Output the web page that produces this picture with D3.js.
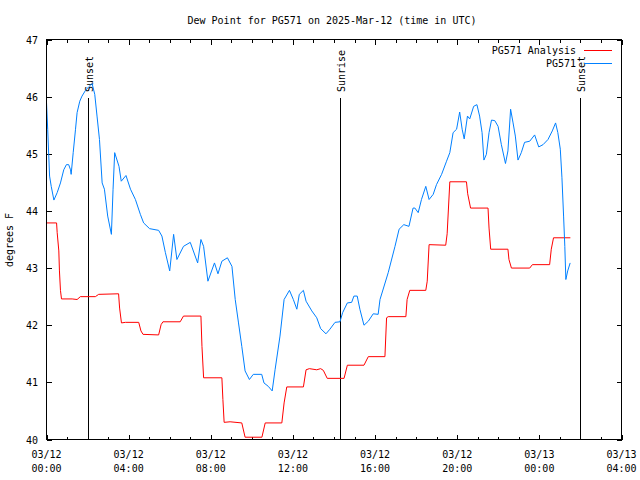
<!DOCTYPE html>
<html>
<head>
<meta charset="utf-8">
<script src="https://cdn.jsdelivr.net/npm/d3@7"></script>
<style>
  html, body { margin: 0; padding: 0; background: #fff; }
  svg { display: block; }
  text { font-family: "DejaVu Sans Mono", "Liberation Mono", monospace; font-size: 10px; fill: #000; }
</style>
</head>
<body>
<svg id="chart" width="640" height="480"></svg>
<script>
// ---- Data (hours after 2025-03-12 00:00 UTC) ----
const analysisHours = [0.0,0.49,0.52,0.60,0.63,0.68,0.73,1.25,1.49,1.65,2.38,2.54,3.51,3.56,3.65,3.84,4.49,4.60,4.70,5.46,5.58,5.67,6.51,6.67,7.52,7.57,7.65,8.54,8.59,8.65,8.94,9.51,9.67,10.49,10.65,11.46,11.57,11.70,12.51,12.64,12.80,13.16,13.35,13.48,13.67,14.49,14.65,15.46,15.67,16.48,16.56,16.64,17.50,17.56,17.69,18.47,18.54,18.63,19.44,19.51,19.64,20.45,20.51,20.65,21.50,21.55,21.63,22.47,22.52,22.64,23.53,23.66,24.50,24.58,24.69,25.51];
const analysisValues = [43.79,43.79,43.62,43.30,42.95,42.61,42.46,42.46,42.45,42.50,42.50,42.54,42.55,42.30,42.04,42.05,42.05,41.90,41.84,41.83,42.01,42.06,42.06,42.16,42.16,41.63,41.08,41.08,40.70,40.30,40.31,40.29,40.04,40.04,40.29,40.29,40.64,40.92,40.92,41.22,41.24,41.22,41.24,41.21,41.07,41.07,41.30,41.30,41.45,41.45,42.13,42.15,42.15,42.45,42.61,42.61,42.77,43.41,43.40,43.60,44.51,44.51,44.30,44.05,44.05,43.70,43.33,43.33,43.15,43.00,43.00,43.06,43.06,43.33,43.53,43.53];

const stationHours = [0.0,0.06,0.15,0.23,0.36,0.52,0.68,0.84,0.97,1.08,1.17,1.20,1.30,1.41,1.49,1.62,1.73,1.90,2.05,2.22,2.35,2.46,2.58,2.71,2.82,2.98,3.16,3.24,3.32,3.53,3.64,3.87,4.09,4.33,4.57,4.73,5.02,5.46,5.62,5.79,6.00,6.19,6.35,6.67,7.00,7.36,7.52,7.65,7.86,8.18,8.35,8.54,8.81,9.03,9.19,9.35,9.51,9.67,9.88,10.07,10.48,10.59,10.80,10.99,11.13,11.37,11.57,11.83,12.02,12.19,12.31,12.51,12.64,12.92,13.16,13.35,13.61,13.80,14.05,14.29,14.42,14.65,14.86,14.97,15.13,15.26,15.46,15.67,15.91,16.15,16.24,16.64,16.97,17.17,17.40,17.65,17.85,17.94,18.10,18.26,18.47,18.63,18.83,18.99,19.24,19.48,19.64,19.80,19.97,20.12,20.24,20.34,20.50,20.61,20.80,20.96,21.09,21.21,21.30,21.42,21.55,21.67,21.83,21.99,22.15,22.35,22.47,22.60,22.72,22.83,22.96,23.12,23.28,23.53,23.77,23.97,24.18,24.42,24.63,24.79,24.90,25.02,25.10,25.18,25.24,25.29,25.38,25.50];
const stationValues = [45.90,45.42,44.61,44.43,44.19,44.32,44.49,44.72,44.81,44.81,44.72,44.64,45.02,45.42,45.72,45.92,46.01,46.11,46.17,46.23,46.04,45.66,45.25,44.49,44.38,43.91,43.59,44.37,45.02,44.78,44.52,44.62,44.38,44.20,43.94,43.79,43.69,43.66,43.56,43.27,42.95,43.59,43.15,43.38,43.45,43.09,43.50,43.38,42.77,43.09,42.90,43.12,43.18,43.03,42.45,42.04,41.63,41.20,41.05,41.14,41.14,40.99,40.93,40.85,41.22,41.81,42.45,42.61,42.45,42.28,42.54,42.61,42.42,42.25,42.13,41.94,41.85,41.93,42.05,42.06,42.22,42.39,42.40,42.51,42.51,42.28,42.00,42.07,42.20,42.19,42.45,42.92,43.38,43.68,43.76,43.73,44.05,44.05,43.97,44.20,44.43,44.20,44.29,44.46,44.64,44.87,45.02,45.37,45.43,45.73,45.43,45.26,45.66,45.61,45.83,45.86,45.66,45.37,44.89,44.99,45.37,45.59,45.58,45.48,45.16,44.83,45.05,45.78,45.54,45.31,44.89,45.02,45.20,45.22,45.33,45.12,45.16,45.25,45.40,45.54,45.37,45.08,44.58,43.91,43.38,42.80,42.95,43.09];

const sunEvents = [
  { label: "Sunset",  hour: 2.04 },
  { label: "Sunrise", hour: 14.29 },
  { label: "Sunset",  hour: 25.97 }
];
const seriesNames = ["PG571 Analysis", "PG571"];
const seriesColors = ["#ff0000", "#0080ff"];
const yTicks = [40, 41, 42, 43, 44, 45, 46, 47];
const titleText = "Dew Point for PG571 on 2025-Mar-12 (time in UTC)";
const yLabel = "degrees F";

// ---- Setup ----
const start = Date.UTC(2025, 2, 12, 0, 0);
const toDate = h => new Date(start + h * 3600e3);
const L = 46.5, R = 621.5, T = 39.5, B = 439.5;

const x = d3.scaleUtc().domain([toDate(0), toDate(28)]).range([L, R]);
const y = d3.scaleLinear().domain([40, 47]).range([B, T]);

const svg = d3.select("#chart");

// title
svg.append("text").attr("x", 332).attr("y", 24).attr("text-anchor", "middle").text(titleText);

// y label
svg.append("text").attr("transform", "translate(13,240) rotate(-90)")
  .attr("text-anchor", "middle").text(yLabel);

// axes ticks
const hourTicks = d3.utcHour.every(1).range(toDate(0), toDate(28.01));
const majorTicks = d3.utcHour.every(4).range(toDate(0), toDate(28.01));
const g = svg.append("g").attr("stroke", "#000").attr("stroke-width", 1).attr("shape-rendering", "crispEdges");
hourTicks.forEach(d => {
  const isMajor = d.getUTCHours() % 4 === 0;
  const len = isMajor ? 5 : 3;
  const xx = Math.round(x(d)) + 0.5;
  g.append("line").attr("x1", xx).attr("x2", xx).attr("y1", B).attr("y2", B - len);
  g.append("line").attr("x1", xx).attr("x2", xx).attr("y1", T).attr("y2", T + len);
});
yTicks.forEach(v => {
  const yy = Math.round(y(v)) + 0.5;
  g.append("line").attr("x1", L).attr("x2", L + 5).attr("y1", yy).attr("y2", yy);
  g.append("line").attr("x1", R).attr("x2", R - 5).attr("y1", yy).attr("y2", yy);
});

// tick labels
const fmtDate = d3.utcFormat("%m/%d"), fmtTime = d3.utcFormat("%H:%M");
majorTicks.forEach(d => {
  const t = svg.append("text").attr("text-anchor", "middle");
  t.append("tspan").attr("x", x(d)).attr("y", 458).text(fmtDate(d));
  t.append("tspan").attr("x", x(d)).attr("y", 472).text(fmtTime(d));
});
yTicks.forEach(v => {
  svg.append("text").attr("x", 38).attr("y", y(v) + 4).attr("text-anchor", "end").text(v);
});

// sun lines
sunEvents.forEach(e => {
  const xx = Math.round(x(toDate(e.hour))) + 0.5;
  svg.append("line").attr("x1", xx).attr("x2", xx).attr("y1", y(45.98)).attr("y2", B)
    .attr("stroke", "#000").attr("stroke-width", 1).attr("shape-rendering", "crispEdges");
  svg.append("text").attr("transform", `translate(${xx + 4},92) rotate(-90)`)
    .attr("text-anchor", "start").text(e.label);
});

// series
const line = d3.line().x(d => x(d[0])).y(d => y(d[1]));
const series = [
  d3.zip(analysisHours.map(toDate), analysisValues),
  d3.zip(stationHours.map(toDate), stationValues)
];
series.forEach((s, i) => {
  svg.append("path").datum(s).attr("d", line).attr("fill", "none")
    .attr("stroke", seriesColors[i]).attr("stroke-width", 1);
});

// frame
svg.append("rect").attr("x", L).attr("y", T).attr("width", R - L).attr("height", B - T)
  .attr("fill", "none").attr("stroke", "#000").attr("stroke-width", 1).attr("shape-rendering", "crispEdges");

// legend
seriesNames.forEach((n, i) => {
  const yy = 50 + i * 13;
  svg.append("text").attr("x", 576).attr("y", yy + 4).attr("text-anchor", "end").text(n);
  svg.append("line").attr("x1", 584).attr("x2", 612).attr("y1", yy + 0.5).attr("y2", yy + 0.5)
    .attr("stroke", seriesColors[i]).attr("stroke-width", 1);
});
</script>
</body>
</html>
